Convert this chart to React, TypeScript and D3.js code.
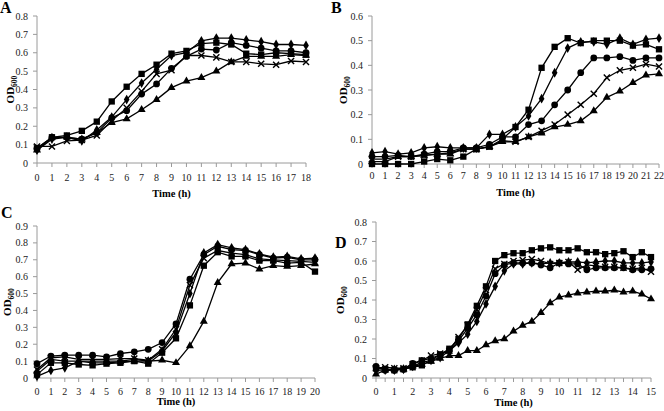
import React from "react";
import * as d3 from "d3";

// time points (h)
const timeA = [0, 1, 2, 3, 4, 5, 6, 7, 8, 9, 10, 11, 12, 13, 14, 15, 16, 17, 18];
const timeB = [0, 1, 2, 3, 4, 5, 6, 7, 8, 9, 10, 11, 12, 13, 14, 15, 16, 17, 18, 19, 20, 21, 22];
const timeC = [0, 1, 2, 3, 4, 5, 6, 7, 8, 9, 10, 11, 12, 13, 14, 15, 16, 17, 18, 19, 20];
const timeD = [0, 0.5, 1, 1.5, 2, 2.5, 3, 3.5, 4, 4.5, 5, 5.5, 6, 6.5, 7, 7.5, 8, 8.5, 9, 9.5, 10, 10.5, 11, 11.5, 12, 12.5, 13, 13.5, 14, 14.5, 15];

// panel A
const aSquare = [0.08, 0.14, 0.15, 0.175, 0.225, 0.335, 0.415, 0.485, 0.535, 0.595, 0.61, 0.65, 0.655, 0.645, 0.595, 0.59, 0.6, 0.595, 0.59];
const aDiamond = [0.07, 0.13, 0.14, 0.12, 0.18, 0.25, 0.345, 0.435, 0.51, 0.585, 0.6, 0.665, 0.68, 0.68, 0.67, 0.66, 0.645, 0.645, 0.64];
const aCircle = [0.08, 0.14, 0.14, 0.13, 0.165, 0.245, 0.285, 0.375, 0.43, 0.515, 0.58, 0.62, 0.615, 0.655, 0.64, 0.625, 0.61, 0.61, 0.6];
const aCross = [0.09, 0.09, 0.12, 0.125, 0.15, 0.23, 0.3, 0.39, 0.485, 0.505, 0.585, 0.585, 0.575, 0.55, 0.55, 0.54, 0.535, 0.555, 0.55];
const aTriangle = [0.07, 0.14, 0.14, 0.13, 0.165, 0.22, 0.24, 0.29, 0.345, 0.41, 0.445, 0.465, 0.5, 0.55, 0.58, 0.58, 0.58, 0.59, 0.585];

// panel B
const bSquare = [0, 0, 0, 0, 0.01, 0.02, 0.015, 0.03, 0.06, 0.07, 0.1, 0.15, 0.22, 0.39, 0.475, 0.51, 0.49, 0.5, 0.5, 0.5, 0.48, 0.485, 0.465];
const bDiamond = [0.045, 0.05, 0.04, 0.045, 0.065, 0.07, 0.065, 0.065, 0.065, 0.12, 0.12, 0.15, 0.195, 0.265, 0.37, 0.47, 0.495, 0.495, 0.485, 0.51, 0.485, 0.505, 0.51];
const bCircle = [0.03, 0.03, 0.035, 0.03, 0.04, 0.05, 0.05, 0.065, 0.065, 0.08, 0.11, 0.11, 0.16, 0.175, 0.24, 0.3, 0.37, 0.43, 0.43, 0.435, 0.42, 0.43, 0.43];
const bCross = [0.02, 0.02, 0.03, 0.03, 0.035, 0.04, 0.045, 0.06, 0.06, 0.07, 0.095, 0.09, 0.11, 0.135, 0.16, 0.2, 0.24, 0.285, 0.35, 0.38, 0.39, 0.405, 0.395];
const bTriangle = [0.01, 0.01, 0.03, 0.03, 0.035, 0.04, 0.04, 0.06, 0.06, 0.07, 0.09, 0.09, 0.11, 0.125, 0.15, 0.16, 0.175, 0.215, 0.27, 0.295, 0.33, 0.36, 0.365];

// panel C
const cSquare = [0.02, 0.09, 0.09, 0.08, 0.075, 0.085, 0.09, 0.1, 0.085, 0.15, 0.235, 0.43, 0.665, 0.745, 0.72, 0.72, 0.695, 0.695, 0.68, 0.685, 0.63];
const cDiamond = [0.01, 0.045, 0.06, 0.1, 0.1, 0.1, 0.1, 0.11, 0.1, 0.16, 0.27, 0.5, 0.74, 0.79, 0.77, 0.76, 0.735, 0.715, 0.72, 0.705, 0.71];
const cCircle = [0.085, 0.13, 0.135, 0.135, 0.135, 0.125, 0.145, 0.155, 0.17, 0.21, 0.32, 0.585, 0.73, 0.78, 0.76, 0.755, 0.73, 0.71, 0.715, 0.7, 0.7];
const cCross = [0.05, 0.12, 0.125, 0.11, 0.11, 0.11, 0.115, 0.115, 0.105, 0.17, 0.29, 0.55, 0.71, 0.755, 0.74, 0.73, 0.705, 0.7, 0.695, 0.69, 0.685];
const cTriangle = [0.04, 0.11, 0.1, 0.1, 0.09, 0.09, 0.095, 0.1, 0.1, 0.105, 0.09, 0.19, 0.335, 0.565, 0.675, 0.68, 0.645, 0.665, 0.66, 0.665, 0.675];

// panel D
const dSquare = [0.05, 0.045, 0.04, 0.045, 0.055, 0.065, 0.09, 0.12, 0.15, 0.2, 0.275, 0.37, 0.47, 0.6, 0.63, 0.64, 0.64, 0.655, 0.665, 0.67, 0.655, 0.655, 0.665, 0.645, 0.645, 0.635, 0.64, 0.65, 0.62, 0.645, 0.62];
const dDiamond = [0.04, 0.04, 0.04, 0.045, 0.06, 0.08, 0.09, 0.105, 0.14, 0.18, 0.225, 0.29, 0.38, 0.47, 0.55, 0.585, 0.585, 0.59, 0.585, 0.59, 0.59, 0.595, 0.595, 0.59, 0.595, 0.6, 0.6, 0.59, 0.59, 0.59, 0.595];
const dCircle = [0.06, 0.04, 0.04, 0.045, 0.075, 0.09, 0.1, 0.12, 0.14, 0.19, 0.255, 0.325, 0.42, 0.535, 0.58, 0.59, 0.59, 0.59, 0.58, 0.565, 0.59, 0.585, 0.585, 0.555, 0.565, 0.565, 0.565, 0.565, 0.555, 0.555, 0.56];
const dCross = [0.05, 0.055, 0.05, 0.05, 0.07, 0.09, 0.115, 0.125, 0.14, 0.21, 0.27, 0.35, 0.45, 0.56, 0.585, 0.6, 0.605, 0.61, 0.6, 0.585, 0.59, 0.595, 0.555, 0.58, 0.575, 0.57, 0.57, 0.565, 0.56, 0.565, 0.545];
const dTriangle = [0.02, 0.04, 0.045, 0.045, 0.06, 0.07, 0.085, 0.1, 0.115, 0.115, 0.14, 0.14, 0.17, 0.19, 0.2, 0.24, 0.27, 0.29, 0.335, 0.385, 0.415, 0.425, 0.435, 0.44, 0.445, 0.445, 0.45, 0.44, 0.445, 0.43, 0.405];

const markers = ["square", "diamond", "circle", "cross", "triangle"];

const panels = [
  {
    letter: "A", time: timeA, yMax: 0.8, yStep: 0.1,
    series: [aSquare, aDiamond, aCircle, aCross, aTriangle],
    left: 37, right: 306, top: 16, bottom: 163,
    letterPos: [0, 13], odX: 10, tickY: 181, titleY: 197,
  },
  {
    letter: "B", time: timeB, yMax: 0.6, yStep: 0.1,
    series: [bSquare, bDiamond, bCircle, bCross, bTriangle],
    left: 372, right: 659, top: 16, bottom: 164,
    letterPos: [331, 13], odX: 343, tickY: 179, titleY: 196,
  },
  {
    letter: "C", time: timeC, yMax: 0.9, yStep: 0.1,
    series: [cSquare, cDiamond, cCircle, cCross, cTriangle],
    left: 37, right: 315, top: 226, bottom: 378,
    letterPos: [1, 218], odX: 7, tickY: 395, titleY: 405,
  },
  {
    letter: "D", time: timeD, yMax: 0.8, yStep: 0.1,
    series: [dSquare, dDiamond, dCircle, dCross, dTriangle],
    left: 376, right: 651, top: 222, bottom: 378,
    letterPos: [335, 248], odX: 340, tickY: 395, titleY: 406,
  },
];

const axisColor = "#9a9a9a";
const font = "Times New Roman, Liberation Serif, serif";

const Marker = ({ kind, x, y }) => {
  if (kind === "cross") {
    const p = d3.symbol(d3.symbolX, 26)();
    return <path d={p} transform={`translate(${x},${y})`} fill="none" stroke="#000" strokeWidth={1.4} />;
  }
  const type =
    kind === "square" ? d3.symbolSquare :
    kind === "diamond" ? d3.symbolDiamond :
    kind === "circle" ? d3.symbolCircle : d3.symbolTriangle;
  const size = kind === "square" ? 40 : kind === "diamond" ? 28 : kind === "circle" ? 36 : 28;
  return <path d={d3.symbol(type, size)()} transform={`translate(${x},${y})`} fill="#000" />;
};

const Panel = ({ p }) => {
  const x = d3.scaleLinear().domain([p.time[0], p.time[p.time.length - 1]]).range([p.left, p.right]);
  const y = d3.scaleLinear().domain([0, p.yMax]).range([p.bottom, p.top]);
  const yTicks = d3.range(0, Math.round(p.yMax / p.yStep) + 1).map((i) => i * p.yStep);
  const line = d3.line().x((d) => x(d[0])).y((d) => y(d[1]));
  const cx = (p.left + p.right) / 2;
  const cy = (p.top + p.bottom) / 2;

  return (
    <g style={{ fontFamily: font }}>
      <text x={p.letterPos[0]} y={p.letterPos[1]} fontSize={16} fontWeight="bold">{p.letter}</text>
      {/* y axis */}
      <line x1={p.left} x2={p.left} y1={p.top} y2={p.bottom} stroke={axisColor} />
      {yTicks.map((t, i) => (
        <g key={i}>
          <line x1={p.left - 4} x2={p.left} y1={y(t)} y2={y(t)} stroke={axisColor} />
          <text x={p.left - 9} y={y(t) + 3.5} fontSize={10} textAnchor="end" fill="#222">
            {t === 0 ? "0" : t.toFixed(1)}
          </text>
        </g>
      ))}
      {/* x axis */}
      <line x1={p.left} x2={p.right} y1={p.bottom} y2={p.bottom} stroke={axisColor} />
      {p.time.map((t, i) => (
        <line key={i} x1={x(t)} x2={x(t)} y1={p.bottom} y2={p.bottom + 4} stroke={axisColor} />
      ))}
      {p.time.filter((t) => Number.isInteger(t)).map((t, i) => (
        <text key={i} x={x(t)} y={p.tickY} fontSize={10} textAnchor="middle" fill="#222">{t}</text>
      ))}
      <text x={cx} y={p.titleY} fontSize={10.5} fontWeight="bold" textAnchor="middle">Time (h)</text>
      <text transform={`translate(${p.odX + 4},${cy}) rotate(-90)`} fontSize={11} fontWeight="bold" textAnchor="middle">
        OD<tspan fontSize={7.5} dy={3}>600</tspan>
      </text>
      {/* series */}
      {p.series.map((vals, j) => {
        const pts = p.time.map((t, i) => [t, vals[i]]);
        return (
          <g key={j}>
            <path d={line(pts)} fill="none" stroke="#000" strokeWidth={1.3} />
            {pts.map((d, i) => (
              <Marker key={i} kind={markers[j]} x={x(d[0])} y={y(d[1])} />
            ))}
          </g>
        );
      })}
    </g>
  );
};

export default function App() {
  return (
    <svg width={664} height={411} style={{ position: "absolute", left: 0, top: 0, background: "#fff" }}>
      {panels.map((p) => (
        <Panel key={p.letter} p={p} />
      ))}
    </svg>
  );
}
